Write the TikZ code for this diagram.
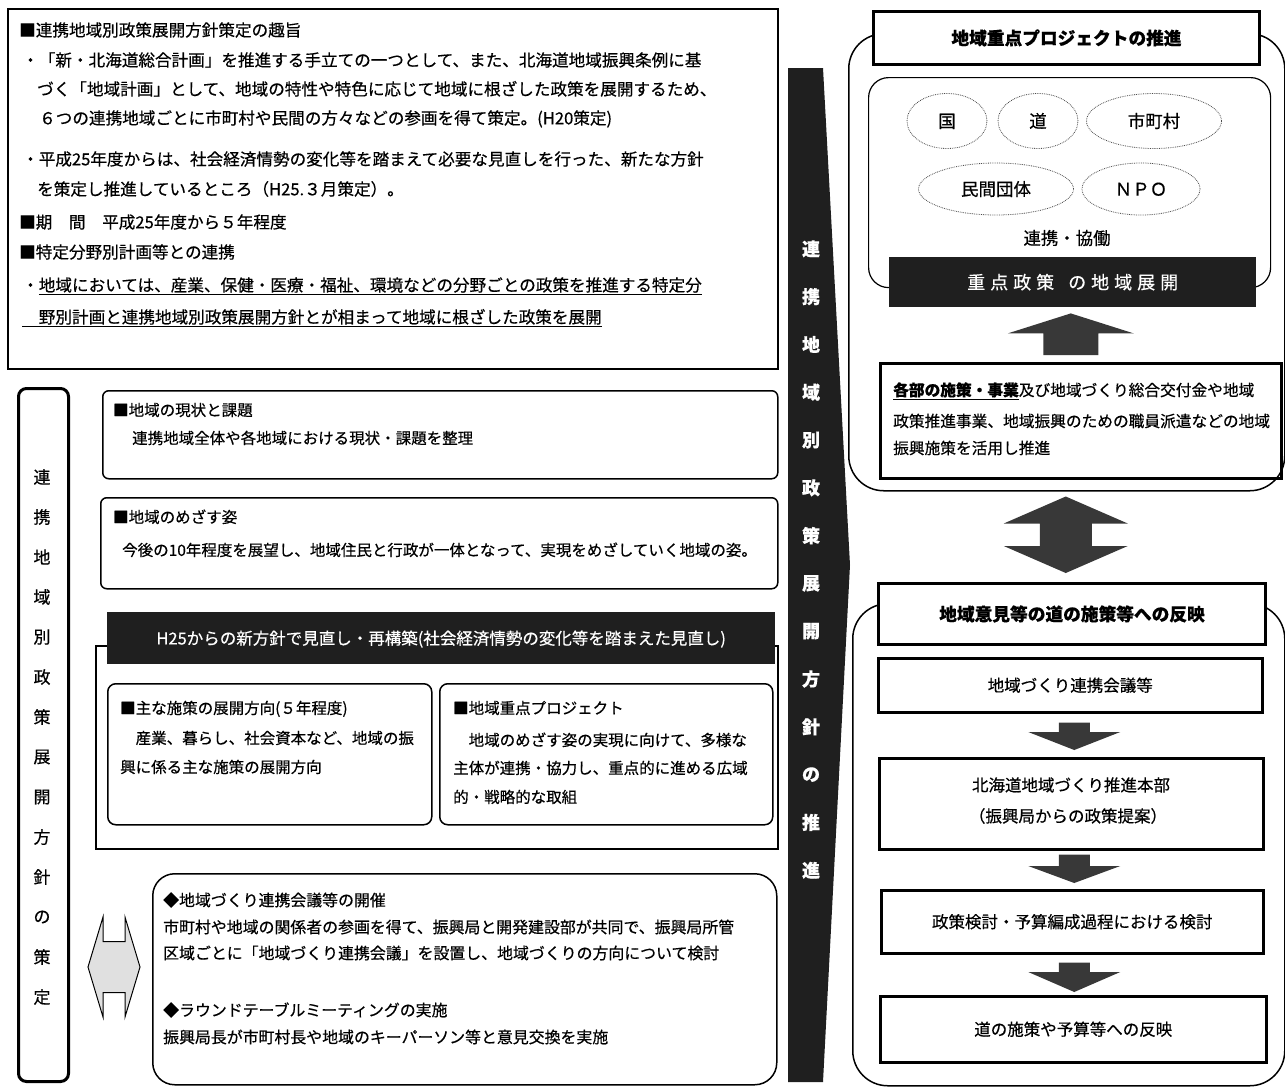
\documentclass[tikz,border=0pt]{standalone}
\usepackage{fontspec}
\setmainfont{Noto Sans CJK JP}[FakeBold=0.5]
\usetikzlibrary{shapes.geometric,calc}
\newcommand{\myfs}[1]{\fontsize{#1bp}{#1bp}\selectfont}
\newcommand{\lsp}{\hspace{5bp}}
% block arrow pointing down: style, top, tip, shaft half, head half, head length
\newcommand{\blkdown}[6]{\path[#1] let \p1=(#2), \p2=(#3) in
  (\x1-#4,\y1) -- (\x1+#4,\y1) -- (\x1+#4,\y2+#6) -- (\x1+#5,\y2+#6) -- (\x1,\y2)
  -- (\x1-#5,\y2+#6) -- (\x1-#4,\y2+#6) -- cycle;}
% block arrow pointing up: style, bottom, tip, shaft half, head half, head length
\newcommand{\blkup}[6]{\path[#1] let \p1=(#2), \p2=(#3) in
  (\x1-#4,\y1) -- (\x1-#4,\y2-#6) -- (\x1-#5,\y2-#6) -- (\x1,\y2) -- (\x1+#5,\y2-#6)
  -- (\x1+#4,\y2-#6) -- (\x1+#4,\y1) -- cycle;}
% vertical double block arrow: style, top tip, bottom tip, shaft half, head half, head length
\newcommand{\blkvv}[6]{\path[#1] let \p1=(#2), \p2=(#3) in
  (\x1,\y1) -- (\x1+#5,\y1-#6) -- (\x1+#4,\y1-#6) -- (\x1+#4,\y2+#6) -- (\x1+#5,\y2+#6)
  -- (\x1,\y2) -- (\x1-#5,\y2+#6) -- (\x1-#4,\y2+#6) -- (\x1-#4,\y1-#6) -- (\x1-#5,\y1-#6) -- cycle;}
% horizontal double block arrow: style, left tip, right tip, shaft half, head half, head length
\newcommand{\blkhh}[6]{\path[#1] let \p1=(#2), \p2=(#3) in
  (\x1,\y1) -- (\x1+#6,\y1+#5) -- (\x1+#6,\y1+#4) -- (\x2-#6,\y1+#4) -- (\x2-#6,\y1+#5)
  -- (\x2,\y2) -- (\x2-#6,\y1-#5) -- (\x2-#6,\y1-#4) -- (\x1+#6,\y1-#4) -- (\x1+#6,\y1-#5) -- cycle;}
\begin{document}
\begin{tikzpicture}[x=1bp,y=-1bp,
  every node/.style={inner sep=0pt},
  box/.style={draw, anchor=north west},
  tA/.style={anchor=west, font=\myfs{16.6}, text height=14.6bp, text depth=2bp},
  tB/.style={anchor=west, font=\myfs{15.5}, text height=13.6bp, text depth=1.9bp},
  tC/.style={anchor=west, font=\myfs{15.9}, text height=14bp, text depth=1.9bp},
  tD/.style={anchor=west, font=\myfs{15.7}, text height=13.8bp, text depth=1.9bp},
  cE/.style={font=\myfs{16.5}, text height=14.5bp, text depth=2bp},
  cT/.style={font=\bfseries\myfs{17.7}, text height=15.6bp, text depth=2.1bp},
  ell/.style={ellipse, draw=black!70, densely dotted, line width=0.8bp, font=\myfs{17.5}, text height=15.4bp, text depth=2.1bp},
  blkfill/.style={fill=black!78},
  lightfill/.style={fill=black!12, draw=black, line width=1bp},
  band/.style={fill=black!88, anchor=north west, text=white},
  vch/.style={font=\myfs{17}},
  cch/.style={font=\bfseries\myfs{18}, text=white}]
\useasboundingbox (0,0) rectangle (1285,1087);

% ---------- top-left box ----------
\node[box, line width=2bp, minimum width=770bp, minimum height=360bp] (intro) at (7,8) {};
\node[tA] (i1) at (19,30) {■連携地域別政策展開方針策定の趣旨};
\node[tA] (i2) at (22,60) {・「新・北海道総合計画」を推進する手立ての一つとして、また、北海道地域振興条例に基};
\node[tA] (i3) at (37,89) {づく「地域計画」として、地域の特性や特色に応じて地域に根ざした政策を展開するため、};
\node[tA] (i4) at (39,118) {６つの連携地域ごとに市町村や民間の方々などの参画を得て策定。(H20策定)};
\node[tA] (i5) at (22,159) {・平成25年度からは、社会経済情勢の変化等を踏まえて必要な見直しを行った、新たな方針};
\node[tA] (i6) at (37,189) {を策定し推進しているところ（H25.３月策定）。};
\node[tA] (i7) at (19,222) {■期　間　平成25年度から５年程度};
\node[tA] (i8) at (19,252) {■特定分野別計画等との連携};
\node[tA] (i9) at (22,285) {・\underline{地域においては、産業、保健・医療・福祉、環境などの分野ごとの政策を推進する特定分}};
\node[tA] (i10) at (22,317) {\underline{　野別計画と連携地域別政策展開方針とが相まって地域に根ざした政策を展開}};

% ---------- left vertical box ----------
\node[box, line width=3bp, rounded corners=8bp, minimum width=50bp, minimum height=693bp] (lv) at (17,387) {};
\foreach \c [count=\i] in {連,携,地,域,別,政,策,展,開,方,針,の,策,定}
  \node[vch] (lv\i) at (42,437+40*\i) {\c};

% ---------- boxes A, B ----------
\node[box, line width=1.5bp, rounded corners=6bp, minimum width=675bp, minimum height=88bp] (bA) at (102,390) {};
\node[tB] (a1) at (113,410) {■地域の現状と課題};
\node[tB] (a2) at (132,438) {連携地域全体や各地域における現状・課題を整理};
\node[box, line width=1.5bp, rounded corners=6bp, minimum width=677bp, minimum height=91bp] (bB) at (100,497) {};
\node[tB] (b1) at (113,517) {■地域のめざす姿};
\node[tB] (b2) at (122,550) {今後の10年程度を展望し、地域住民と行政が一体となって、実現をめざしていく地域の姿。};

% ---------- H25 frame ----------
\node[box, line width=2bp, minimum width=682bp, minimum height=203bp] (hf) at (95,645) {};
\node[band, minimum width=668bp, minimum height=52bp, cE] (hb) at (107,612) {H25からの新方針で見直し・再構築(社会経済情勢の変化等を踏まえた見直し)};
\node[box, line width=1.5bp, rounded corners=8bp, minimum width=324bp, minimum height=141bp] (c1) at (107,683) {};
\node[tB] (c1a) at (120,708) {■主な施策の展開方向(５年程度)};
\node[tB] (c1b) at (120,738) {　産業、暮らし、社会資本など、地域の振};
\node[tB] (c1c) at (120,767) {興に係る主な施策の展開方向};
\node[box, line width=1.5bp, rounded corners=8bp, minimum width=333bp, minimum height=141bp] (c2) at (439,683) {};
\node[tB] (c2a) at (453,708) {■地域重点プロジェクト};
\node[tB] (c2b) at (453,740) {　地域のめざす姿の実現に向けて、多様な};
\node[tB] (c2c) at (453,768) {主体が連携・協力し、重点的に進める広域};
\node[tB] (c2d) at (453,797) {的・戦略的な取組};

% ---------- bottom-left box ----------
\node[box, line width=1.5bp, rounded corners=22bp, minimum width=624bp, minimum height=211bp] (bl) at (152,873) {};
\node[tC] (d1) at (163,900) {◆地域づくり連携会議等の開催};
\node[tC] (d2) at (163,927) {市町村や地域の関係者の参画を得て、振興局と開発建設部が共同で、振興局所管};
\node[tC] (d3) at (163,953) {区域ごとに「地域づくり連携会議」を設置し、地域づくりの方向について検討};
\node[tC] (d4) at (163,1010) {◆ラウンドテーブルミーティングの実施};
\node[tC] (d5) at (163,1037) {振興局長が市町村長や地域のキーパーソン等と意見交換を実施};

% left double arrow
\coordinate (la) at ([xshift=18bp]lv.east |- 0,967);
\coordinate (lb) at ([xshift=-12bp]bl.west |- 0,967);
\blkhh{lightfill}{la}{lb}{25.5bp}{50bp}{15bp}

% ---------- central column ----------
\path[fill=black!88] (788,68) -- (823,68) -- (850,565) -- (823,1082) -- (788,1082) -- cycle;
\foreach \c [count=\i] in {連,携,地,域,別,政,策,展,開,方,針,の,推,進}
  \node[cch] (cc\i) at (811,201+47.8*\i) {\c};

% ---------- right upper ----------
\node[box, line width=1.5bp, rounded corners=35bp, minimum width=436bp, minimum height=457bp] (uf) at (848,33) {};
\node[box, line width=3bp, fill=white, minimum width=386bp, minimum height=53bp, cT] (ut) at (872,10) {地域重点プロジェクトの推進};
\node[box, line width=1.2bp, rounded corners=20bp, minimum width=402bp, minimum height=210bp] (ib) at (868,77) {};
\node[ell, minimum width=80bp, minimum height=55bp] (e1) at (947,121) {国};
\node[ell, minimum width=80bp, minimum height=55bp] (e2) at (1038,121) {道};
\node[ell, minimum width=135bp, minimum height=55bp] (e3) at (1154,121) {市町村};
\node[ell, minimum width=155bp, minimum height=52bp] (e4) at (996,189) {民間団体};
\node[ell, minimum width=118bp, minimum height=52bp] (e5) at (1141,189) {ＮＰＯ};
\node[font=\myfs{17.4}, text height=15.3bp, text depth=2.1bp] (kyo) at (1067,238) {連携・協働};
\node[band, minimum width=367bp, minimum height=50bp, font=\myfs{18}, text height=15.8bp, text depth=2.2bp] (ub) at (889,257) {重\lsp 点\lsp 政\lsp 策\hspace{14bp}の\lsp 地\lsp 域\lsp 展\lsp 開};
\node[box, line width=2.5bp, minimum width=401bp, minimum height=115bp] (ubx) at (879,362) {};
\node[tD] (u1) at (893,390) {\textbf{\underline{各部の施策・事業}}及び地域づくり総合交付金や地域};
\node[tD] (u2) at (893,421) {政策推進事業、地域振興のための職員派遣などの地域};
\node[tD] (u3) at (893,448) {振興施策を活用し推進};
\blkup{blkfill}{$(ubx.north)+(-10,-7)$}{$(ub.south)+(-3,6)$}{27.5bp}{63bp}{20bp}

% double arrow between frames
\node[box, line width=1.5bp, rounded corners=35bp, minimum width=432bp, minimum height=482bp] (lf) at (852,603) {};
\node[box, line width=3bp, fill=white, minimum width=387bp, minimum height=61bp, cT] (lt) at (877,582) {地域意見等の道の施策等への反映};
\blkvv{blkfill}{$(uf.south)+(-1,5)$}{$(lt.north)+(-5,-9)$}{26bp}{62bp}{27bp}

% ---------- right lower chain ----------
\node[box, line width=2.5bp, minimum width=384bp, minimum height=54bp, cE] (r1) at (877,657) {地域づくり連携会議等};
\node[box, line width=2.5bp, minimum width=384bp, minimum height=91bp] (r2) at (878,757) {};
\node[cE] (r2a) at (1071,785) {北海道地域づくり推進本部};
\node[cE] (r2b) at (1068,816) {（振興局からの政策提案）};
\node[box, line width=2.5bp, minimum width=382bp, minimum height=63bp, cE] (r3) at (880,889) {政策検討・予算編成過程における検討};
\node[box, line width=2.5bp, minimum width=386bp, minimum height=66bp, cE] (r4) at (879,995) {道の施策や予算等への反映};
\blkdown{blkfill}{$(r1.south)+(4,9)$}{$(r2.north)+(4,-7)$}{15.5bp}{46bp}{18bp}
\blkdown{blkfill}{$(r2.south)+(3,4)$}{$(r3.north)+(3,-6)$}{15.5bp}{46bp}{17bp}
\blkdown{blkfill}{$(r3.south)+(2,8)$}{$(r4.north)+(2,-3)$}{15.5bp}{46bp}{20bp}
\end{tikzpicture}
\end{document}
